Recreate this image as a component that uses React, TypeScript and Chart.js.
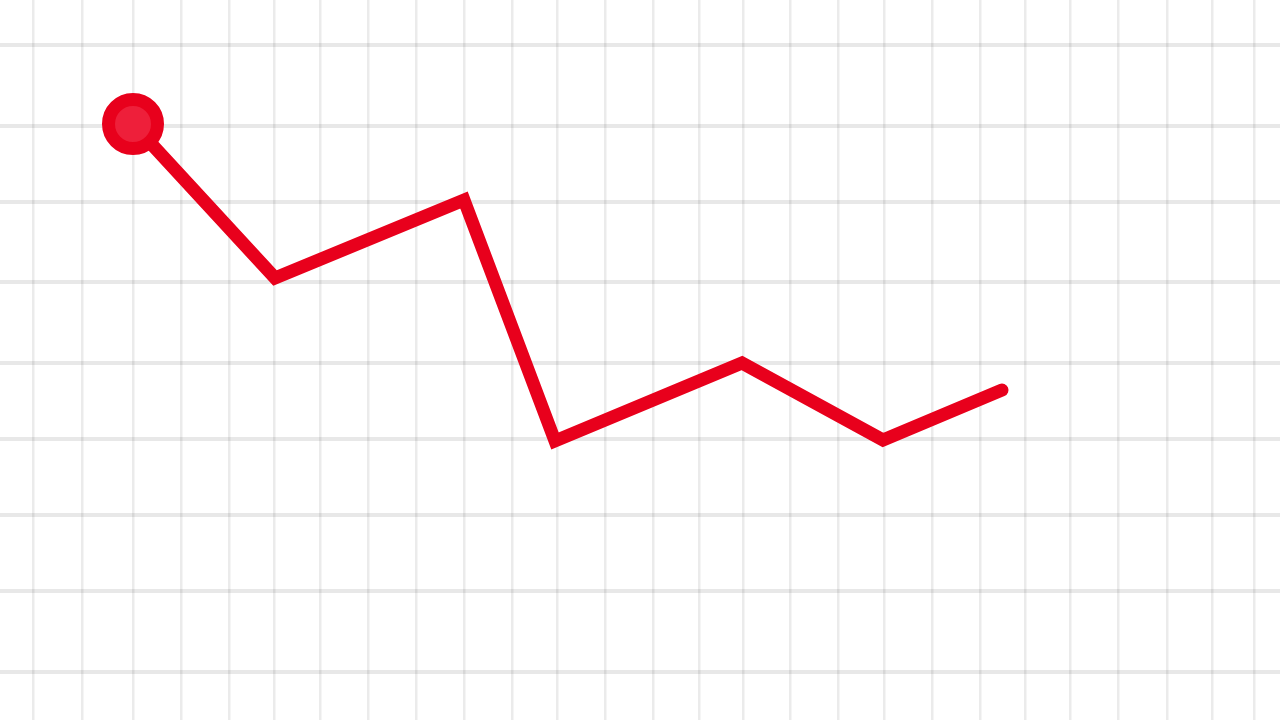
import { useEffect, useRef } from "react";
import { Chart, registerables } from "chart.js";

Chart.register(...registerables);

// x/y in the chart's own value space (y grows upward)
const xValues = [133, 275, 464, 555, 742, 883, 1002];
const yValues = [596, 442, 520, 279, 357, 280, 330];
const xGrid = [33, 82, 133, 181, 229, 274, 320, 368, 416, 464, 512, 557, 605, 653, 699, 743, 790, 838, 884, 932, 980, 1025, 1070, 1118, 1167, 1212, 1254];
const yGrid = [675, 594, 518, 438, 357, 281, 205, 129, 48];
const markerRadius = [24.5, 0, 0, 0, 0, 0, 0];

export default function App() {
  const canvasRef = useRef<HTMLCanvasElement>(null);

  useEffect(() => {
    if (!canvasRef.current) return;
    const chart = new Chart(canvasRef.current, {
      type: "line",
      data: {
        datasets: [{
          data: xValues.map((x, i) => ({ x, y: yValues[i] })),
          borderColor: "#e8001c",
          borderWidth: 13,
          borderCapStyle: "round",
          borderJoinStyle: "miter",
          pointRadius: markerRadius,
          pointBackgroundColor: "#ee1f3a",
          pointBorderColor: "#e8001c",
          pointBorderWidth: 13,
          pointHoverRadius: markerRadius,
          tension: 0,
          clip: false,
        }],
      },
      options: {
        animation: false,
        responsive: false,
        events: [],
        layout: { padding: 0, autoPadding: false },
        plugins: { legend: { display: false }, tooltip: { enabled: false } },
        scales: {
          x: {
            type: "linear",
            min: 0,
            max: 1280,
            afterBuildTicks: axis => { axis.ticks = xGrid.map(value => ({ value })); },
            ticks: { display: false },
            grid: { color: "rgba(0,0,0,0.08)", lineWidth: 2.5, drawTicks: false },
            border: { display: false },
          },
          y: {
            type: "linear",
            min: 0,
            max: 720,
            afterBuildTicks: axis => { axis.ticks = yGrid.map(value => ({ value })); },
            ticks: { display: false },
            grid: { color: "rgba(0,0,0,0.09)", lineWidth: 4, drawTicks: false },
            border: { display: false },
          },
        },
      },
    });
    return () => { chart.destroy(); };
  }, []);

  return (
    <div style={{ position: "fixed", left: 0, top: 0, width: 1280, height: 720, background: "#fff" }}>
      <canvas ref={canvasRef} width={1280} height={720} style={{ display: "block" }} />
    </div>
  );
}
